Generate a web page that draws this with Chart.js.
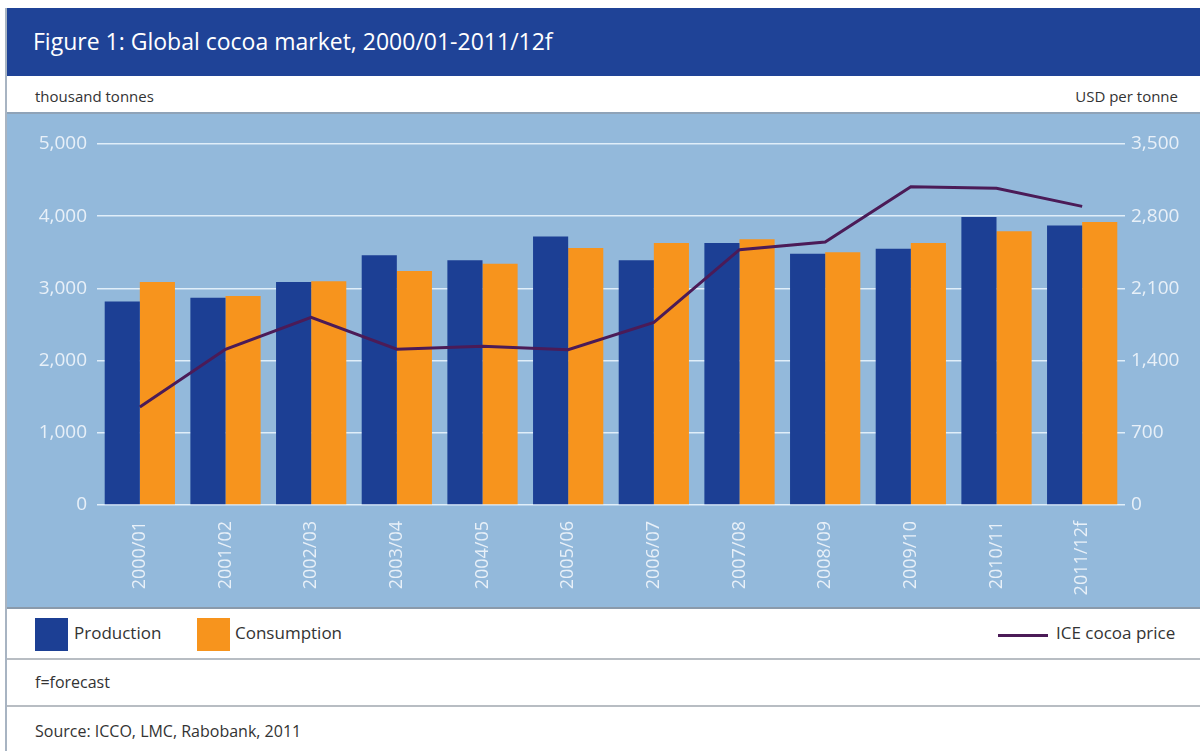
<!DOCTYPE html>
<html>
<head>
<meta charset="utf-8">
<script src="https://cdn.jsdelivr.net/npm/chart.js"></script>
<style>
  body { margin:0; background:#fff; font-family:"Open Sans", sans-serif; }
  #fig { position:absolute; left:5px; top:8px; width:1195px; border-left:2px solid #a8b4c2; box-sizing:border-box; }
  .head { height:68px; background:#1f4397; color:#fff; font-size:23px; line-height:66px; padding-left:26px; box-sizing:border-box; }
  .units { height:38px; position:relative; color:#333; font-size:15px; border-bottom:2px solid #8fa3b8; box-sizing:border-box; }
  .units span { position:absolute; top:10px; }
  .plot { height:495px; background:#93b9db; border-bottom:2px solid #8a9aab; box-sizing:border-box; position:relative; }
  .legend { height:51px; position:relative; border-bottom:2px solid #b8bdc3; box-sizing:border-box; font-size:17px; color:#333; }
  .legend .sw { position:absolute; top:9px; width:33px; height:33px; }
  .legend .tx { position:absolute; top:12px; }
  .legend .ln { position:absolute; top:25px; width:50px; height:3px; background:#4b1b57; }
  .note { height:47px; border-bottom:2px solid #b8bdc3; box-sizing:border-box; font-size:16px; color:#333; line-height:44px; padding-left:28px; }
  .src { height:45px; font-size:16px; color:#333; line-height:48px; padding-left:28px; }
</style>
</head>
<body>
<div id="fig">
  <div class="head">Figure 1: Global cocoa market, 2000/01-2011/12f</div>
  <div class="units"><span style="left:28px">thousand tonnes</span><span style="right:22px">USD per tonne</span></div>
  <div class="plot"><canvas id="chart"></canvas></div>
  <div class="legend">
    <div class="sw" style="left:28px;background:#1c3f94"></div><div class="tx" style="left:67px">Production</div>
    <div class="sw" style="left:190px;background:#f7941d"></div><div class="tx" style="left:228px">Consumption</div>
    <div class="ln" style="left:991px"></div><div class="tx" style="left:1049px">ICE cocoa price</div>
  </div>
  <div class="note">f=forecast</div>
  <div class="src">Source: ICCO, LMC, Rabobank, 2011</div>
</div>
<script>
// --- data ---
const seasons = ['2000/01','2001/02','2002/03','2003/04','2004/05','2005/06','2006/07','2007/08','2008/09','2009/10','2010/11','2011/12f'];
const production = [2820, 2870, 3090, 3460, 3390, 3720, 3390, 3630, 3480, 3550, 3990, 3870];   // thousand tonnes
const consumption = [3090, 2895, 3100, 3240, 3340, 3560, 3630, 3680, 3500, 3630, 3790, 3920];  // thousand tonnes
const icePrice = [950, 1510, 1820, 1510, 1540, 1505, 1770, 2475, 2550, 3085, 3070, 2895];     // USD per tonne
const leftTicks = [0, 1000, 2000, 3000, 4000, 5000];
const rightTicks = [0, 700, 1400, 2100, 2800, 3500];

const tickColor = '#e8f0f8';
const fmt = v => v.toLocaleString('en-US');

const ctx = document.getElementById('chart').getContext('2d');
new Chart(ctx, {
  type: 'bar',
  data: {
    labels: seasons,
    datasets: [
      {type:'line', label:'ICE cocoa price', data:icePrice, yAxisID:'y1', borderColor:'#4b1b57', borderWidth:3, pointRadius:0, tension:0, order:0},
      {label:'Production', data:production, yAxisID:'y', backgroundColor:'#1c3f94', categoryPercentage:0.82, barPercentage:1.0, order:1},
      {label:'Consumption', data:consumption, yAxisID:'y', backgroundColor:'#f7941d', categoryPercentage:0.82, barPercentage:1.0, order:1}
    ]
  },
  options: {
    responsive:true, maintainAspectRatio:false, animation:false,
    layout:{padding:{top:30, left:0, right:0, bottom:0}},
    plugins:{legend:{display:false}, tooltip:{enabled:false}},
    scales:{
      x:{
        grid:{display:false}, border:{display:false},
        ticks:{color:tickColor, font:{family:'Open Sans', size:18}, minRotation:90, maxRotation:90, autoSkip:false, padding:8},
        afterFit: s => { s.height = 102; }
      },
      y:{
        position:'left', min:0, max:5000,
        afterBuildTicks: s => { s.ticks = leftTicks.map(v => ({value:v})); },
        grid:{color:'rgba(228,240,251,0.95)', lineWidth:1.5, drawTicks:false}, border:{display:false},
        ticks:{color:tickColor, font:{family:'Open Sans', size:19}, padding:10, callback:v => fmt(v)},
        afterFit: s => { s.width = 90; }
      },
      y1:{
        position:'right', min:0, max:3500,
        afterBuildTicks: s => { s.ticks = rightTicks.map(v => ({value:v})); },
        grid:{display:false, drawTicks:false}, border:{display:false},
        ticks:{color:tickColor, font:{family:'Open Sans', size:19}, padding:6, crossAlign:'near', callback:v => fmt(v)},
        afterFit: s => { s.width = 75; }
      }
    }
  }
});
</script>
</body>
</html>
